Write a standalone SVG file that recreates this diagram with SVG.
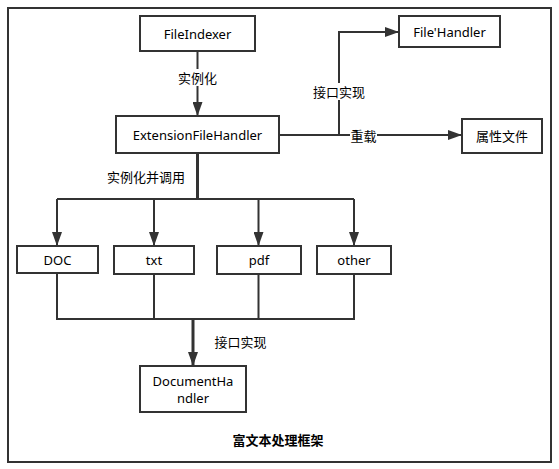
<svg xmlns="http://www.w3.org/2000/svg" width="559" height="469" viewBox="0 0 559 469">
<defs>
<marker id="arr" viewBox="0 0 14 10" refX="14" refY="5" markerWidth="14" markerHeight="10" markerUnits="userSpaceOnUse" orient="auto">
<path d="M0,0 L14,5 L0,10 Z" fill="#333"/>
</marker>
<style>
.box{fill:#fff;stroke:#333;stroke-width:2}
.t{font-family:"Noto Sans","Noto Sans CJK SC",sans-serif;font-size:13px;fill:#000;text-anchor:middle;dominant-baseline:central}
.ln{fill:none;stroke:#333;stroke-width:2}
.thick{stroke-width:3}
.lb{fill:#fff}
</style>
</defs>
<rect x="0" y="0" width="559" height="469" fill="#fff"/>
<rect x="8" y="8" width="543" height="454" fill="none" stroke="#333" stroke-width="2"/>
<g id="connectors">
<path class="ln" d="M197.5,51 V116" marker-end="url(#arr)"/>
<path class="ln thick" d="M197.5,153 V199"/>
<path class="ln" d="M57,199 H354"/>
<path class="ln" d="M57,199 V246" marker-end="url(#arr)"/>
<path class="ln" d="M154,199 V246" marker-end="url(#arr)"/>
<path class="ln" d="M258.5,199 V246" marker-end="url(#arr)"/>
<path class="ln" d="M354,199 V246" marker-end="url(#arr)"/>
<path class="ln" d="M57,273 V319 H354 V274"/>
<path class="ln" d="M154,274 V319"/>
<path class="ln" d="M258.5,274 V319"/>
<path class="ln thick" d="M193,319 V366" marker-end="url(#arr)"/>
<path class="ln" d="M279,135 H462" marker-end="url(#arr)"/>
<path class="ln" d="M339,135 V32 H399" marker-end="url(#arr)"/>
<rect class="lb" x="177" y="69" width="41" height="17"/>
<text class="t" x="197.5" y="77.5">实例化</text>
<text class="t" x="146" y="177">实例化并调用</text>
<rect class="lb" x="313" y="83" width="52" height="17"/>
<text class="t" x="339" y="91.5">接口实现</text>
<rect class="lb" x="350" y="127" width="27" height="17"/>
<text class="t" x="363.5" y="135.5">重载</text>
<text class="t" x="240.5" y="341.5">接口实现</text>
</g>
<g id="FileIndexer"><rect class="box" x="140" y="16" width="115" height="35"/><text class="t" x="197.5" y="33.5">FileIndexer</text></g>
<g id="ExtensionFileHandler"><rect class="box" x="116" y="116" width="163" height="37"/><text class="t" x="197.5" y="134.5">ExtensionFileHandler</text></g>
<g id="FileHandler"><rect class="box" x="399" y="16" width="101" height="31"/><text class="t" x="449.5" y="31.5">File'Handler</text></g>
<g id="PropertyFile"><rect class="box" x="462" y="119" width="80" height="34"/><text class="t" x="502" y="136">属性文件</text></g>
<g id="DOC"><rect class="box" x="17" y="246" width="81" height="27"/><text class="t" x="57.5" y="259.5">DOC</text></g>
<g id="txt"><rect class="box" x="114" y="246" width="80" height="28"/><text class="t" x="154" y="260">txt</text></g>
<g id="pdf"><rect class="box" x="217" y="246" width="84" height="28"/><text class="t" x="259" y="260">pdf</text></g>
<g id="other"><rect class="box" x="317" y="246" width="74" height="28"/><text class="t" x="354" y="260">other</text></g>
<g id="DocumentHandler"><rect class="box" x="140" y="366" width="106" height="46"/><text class="t" x="193" y="380.5">DocumentHa</text><text class="t" x="193" y="397.5">ndler</text></g>
<text class="t" x="278" y="439.5" font-weight="bold">富文本处理框架</text>
</svg>
